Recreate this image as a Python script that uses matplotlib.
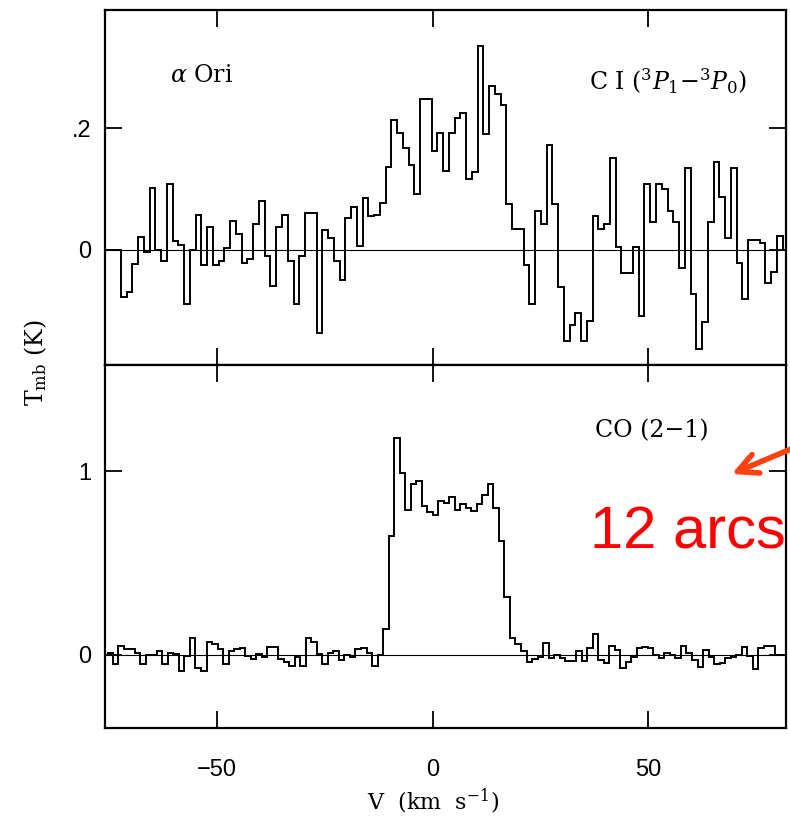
import numpy as np
import matplotlib
matplotlib.use("Agg")
import matplotlib.pyplot as plt

plt.rcParams["mathtext.fontset"] = "dejavuserif"

# velocity grids (km/s): first channel edge and channel width
ci_v0, ci_dv = -75.0, 1.335
co_v0, co_dv = -75.5, 1.28

# C I (3P1-3P0) main-beam temperature per channel (K)
ci_tmb = [
    0.0, 0.0, -0.078, -0.069, -0.023, 0.021, -0.003, 0.101, 0.0, -0.018,
    0.108, 0.014, 0.008, -0.090, -0.001, 0.057, -0.026, 0.038, -0.025, -0.018,
    0.002, 0.048, 0.026, -0.022, -0.016, 0.043, 0.080, -0.011, -0.060, 0.037,
    0.057, -0.018, -0.089, -0.011, 0.060, 0.060, -0.138, 0.032, 0.019,
    -0.019, -0.050, 0.052, 0.070, 0.006, 0.085, 0.055, 0.057, 0.077, 0.137,
    0.213, 0.193, 0.168, 0.139, 0.092, 0.248, 0.248, 0.162, 0.193, 0.130,
    0.193, 0.217, 0.226, 0.116, 0.128, 0.336, 0.191, 0.270, 0.257, 0.239,
    0.075, 0.034, 0.034, -0.026, -0.090, 0.063, 0.043, 0.173, 0.075, -0.061,
    -0.150, -0.124, -0.104, -0.150, -0.117, 0.056, 0.034, 0.042, 0.151, 0.005,
    -0.039, -0.039, 0.005, -0.109, 0.108, 0.046, 0.109, 0.100, 0.064, 0.046,
    -0.030, 0.135, -0.073, -0.164, -0.119, 0.046, 0.145, 0.087, 0.020, 0.134,
    -0.022, -0.082, 0.016, 0.016, 0.011, -0.055, -0.036, 0.023, 0.0,
]

# CO (2-1) main-beam temperature per channel (K)
co_tmb = [
    0.01, -0.05, 0.05, 0.03, 0.03, 0.01, -0.05, 0.0, 0.0, 0.02,
    -0.05, 0.01, 0.005, -0.09, -0.005, 0.09, -0.07, -0.09, 0.07, 0.06,
    0.03, -0.05, 0.02, 0.03, 0.035, -0.005, -0.025, 0.005, -0.015, 0.04,
    0.04, -0.025, -0.04, -0.06, -0.015, -0.06, 0.09, 0.07, 0.005, -0.05,
    0.01,
    0.02, -0.03, 0.0, -0.01, 0.03, 0.035, 0.01, -0.06, 0.0, 0.14,
    0.65, 1.18, 0.99, 0.79, 0.93, 0.95, 0.81, 0.78, 0.76, 0.84,
    0.83, 0.86, 0.79, 0.82, 0.80, 0.785, 0.82, 0.87, 0.93, 0.80,
    0.62, 0.315, 0.09, 0.06, 0.02, -0.04, -0.025, -0.01, 0.065, -0.02,
    0.0,
    -0.02, -0.035, -0.035, 0.02, -0.035, 0.035, 0.115, -0.03, -0.045, 0.05,
    0.025, -0.075, -0.04, -0.013, 0.035, 0.04, 0.035, 0.0, -0.02, 0.01,
    0.0, -0.02, 0.05, 0.01, -0.03, -0.065, 0.025, -0.013, -0.05, -0.045,
    -0.02, -0.013, 0.0, 0.04, -0.007, -0.08, 0.035, 0.05, 0.05, 0.0,
    0.0,
]

xticks = [-50, 0, 50]
ci_yticks, ci_yticklabels = [0, 0.2], ["0", ".2"]
co_yticks, co_yticklabels = [0, 1], ["0", "1"]

ci_edges = ci_v0 + ci_dv * np.arange(len(ci_tmb) + 1)
co_edges = co_v0 + co_dv * np.arange(len(co_tmb) + 1)

serif = "DejaVu Serif"
sans = "Liberation Sans"

fig = plt.figure(figsize=(7.9, 8.16), dpi=100)
ax1 = fig.add_axes([0.133, 0.5527, 0.862, 0.435])
ax2 = fig.add_axes([0.133, 0.1078, 0.862, 0.4449], sharex=ax1)

for ax in (ax1, ax2):
    ax.axhline(0, color="black", lw=0.8)
    for s in ax.spines.values():
        s.set_linewidth(1.6)
    ax.tick_params(direction="in", length=12, width=1.3, top=True, right=True,
                   labelsize=17)
    ax.tick_params(axis="y", pad=10)
    ax.tick_params(axis="x", pad=22)

ax1.stairs(ci_tmb, ci_edges, baseline=None, color="black", lw=1.4)
ax2.stairs(co_tmb, co_edges, baseline=None, color="black", lw=1.4)

ax1.set_xlim(-76, 82)
ax1.set_ylim(-0.19, 0.395)
ax2.set_ylim(-0.40, 1.58)

ax1.set_xticks(xticks)
ax1.set_yticks(ci_yticks)
ax1.set_yticklabels(ci_yticklabels, family=sans, fontsize=17)
ax2.set_yticks(co_yticks)
ax2.set_yticklabels(co_yticklabels, family=sans, fontsize=17)
ax1.tick_params(labelbottom=False)
ax2.set_xticklabels([str(t) if t >= 0 else "\u2212" + str(-t) for t in xticks],
                    family=sans, fontsize=17)

ax1.text(0.095, 0.815, r"$\alpha$ Ori", transform=ax1.transAxes,
         family=serif, fontsize=17, va="center")
ax1.text(0.71, 0.80, r"C I ($^3P_1$$-$$^3P_0$)", transform=ax1.transAxes,
         family=serif, fontsize=17, va="center")
ax2.text(0.72, 0.82, "CO (2\u22121)", transform=ax2.transAxes,
         family=serif, fontsize=17, va="center")

fig.text(0.548, 0.018, r"V  (km  s$^{-1}$)", family=serif, fontsize=16,
         ha="center", va="center")
fig.text(0.045, 0.555, r"T$_{\rm mb}$ (K)", rotation=90, family=serif,
         fontsize=17, ha="center", va="center")

# red annotation pointing at the CO panel
ax2.annotate("", xy=(68.8, 0.98), xytext=(86, 1.15),
             arrowprops=dict(arrowstyle="->", color="#ff4010", lw=4,
                             mutation_scale=36),
             annotation_clip=False)
ax2.text(36.5, 0.58, "12 arcs", color="red", family=sans, fontsize=43,
         va="baseline")

fig.savefig("out.png", dpi=100)
